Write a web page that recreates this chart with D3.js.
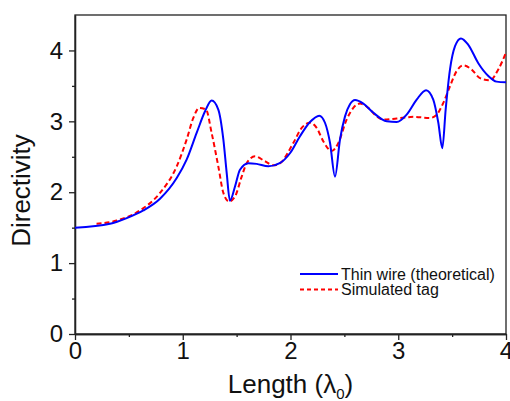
<!DOCTYPE html>
<html>
<head>
<meta charset="utf-8">
<script src="https://cdn.jsdelivr.net/npm/d3@7"></script>
<style>
  body { margin: 0; background: #fff; }
  svg { display: block; font-family: Arial, "Liberation Sans", sans-serif; }
  .axis path, .axis line { stroke: #222; }
  .axis text { fill: #111; }
</style>
</head>
<body>
<svg></svg>
<script>
// thin wire (theoretical)
let wireX = [0, 0.325, 0.48, 0.634, 0.789, 0.944, 1.036, 1.129, 1.207, 1.268, 1.33, 1.377, 1.408, 1.438, 1.485, 1.531, 1.609, 1.686, 1.794, 1.90, 1.995, 2.088, 2.181, 2.267, 2.32, 2.367, 2.413, 2.459, 2.506, 2.552, 2.599, 2.676, 2.77, 2.893, 2.985, 3.078, 3.171, 3.258, 3.325, 3.372, 3.409, 3.44, 3.48, 3.527, 3.582, 3.65, 3.743, 3.836, 3.913, 4.0]
let wireY = [1.5, 1.555, 1.635, 1.743, 1.908, 2.2, 2.46, 2.837, 3.142, 3.293, 3.166, 2.742, 2.27, 1.88, 2.08, 2.318, 2.41, 2.40, 2.365, 2.41, 2.55, 2.79, 2.99, 3.08, 2.98, 2.695, 2.22, 2.74, 3.07, 3.24, 3.30, 3.25, 3.12, 3.0, 2.99, 3.095, 3.307, 3.44, 3.307, 2.98, 2.62, 3.166, 3.73, 4.06, 4.17, 4.08, 3.82, 3.64, 3.56, 3.55]

// simulated tag
let tagX = [0.2, 0.387, 0.603, 0.789, 0.944, 1.036, 1.098, 1.154, 1.216, 1.268, 1.33, 1.377, 1.429, 1.485, 1.547, 1.593, 1.67, 1.763, 1.84, 1.903, 2.026, 2.104, 2.181, 2.243, 2.304, 2.382, 2.444, 2.521, 2.583, 2.645, 2.722, 2.8, 2.861, 2.985, 3.14, 3.295, 3.357, 3.418, 3.48, 3.542, 3.604, 3.681, 3.759, 3.852, 3.928, 4.0]
let tagY = [1.555, 1.6, 1.743, 1.99, 2.365, 2.742, 3.048, 3.19, 3.166, 2.837, 2.365, 1.99, 1.87, 1.94, 2.22, 2.41, 2.506, 2.437, 2.38, 2.41, 2.695, 2.907, 2.98, 2.907, 2.72, 2.58, 2.695, 3.025, 3.19, 3.25, 3.19, 3.07, 3.025, 3.04, 3.063, 3.048, 3.095, 3.26, 3.495, 3.71, 3.79, 3.73, 3.61, 3.58, 3.73, 3.97]

let xMajor = [0, 1, 2, 3, 4]
let xMinor = [0.5, 1.5, 2.5, 3.5]
let yMajor = [0, 1, 2, 3, 4]
let yMinor = [0.5, 1.5, 2.5, 3.5]
let seriesNames = ['Thin wire (theoretical)', 'Simulated tag']

let width = 510
let height = 401
let plotLeft = 75, plotRight = 506, plotTop = 15, plotBottom = 334

let svg = d3.select('svg')
    .attr('width', width)
    .attr('height', height)

let xScale = d3.scaleLinear().domain([0, 4]).range([plotLeft, plotRight])
let yScale = d3.scaleLinear().domain([0, 4.5]).range([plotBottom, plotTop])

// frame
svg.append('rect')
    .attr('x', plotLeft)
    .attr('y', plotTop)
    .attr('width', plotRight - plotLeft)
    .attr('height', plotBottom - plotTop)
    .attr('fill', 'none')
    .attr('stroke', '#222')
    .attr('stroke-width', 1.3)

// major axes with labels
let xAxis = svg.append('g')
    .attr('class', 'axis')
    .attr('transform', `translate(0, ${plotBottom})`)
    .call(d3.axisBottom(xScale).tickValues(xMajor).tickFormat(d3.format('d')).tickSize(6).tickSizeOuter(0))
xAxis.selectAll('text').attr('font-size', 24).attr('dy', '0.75em').attr('y', 7)

let yAxis = svg.append('g')
    .attr('class', 'axis')
    .attr('transform', `translate(${plotLeft}, 0)`)
    .call(d3.axisLeft(yScale).tickValues(yMajor).tickFormat(d3.format('d')).tickSize(6).tickSizeOuter(0))
yAxis.selectAll('text').attr('font-size', 24).attr('x', -12)

// minor ticks
svg.append('g')
    .attr('class', 'axis')
    .attr('transform', `translate(0, ${plotBottom})`)
    .call(d3.axisBottom(xScale).tickValues(xMinor).tickFormat('').tickSize(3).tickSizeOuter(0))
svg.append('g')
    .attr('class', 'axis')
    .attr('transform', `translate(${plotLeft}, 0)`)
    .call(d3.axisLeft(yScale).tickValues(yMinor).tickFormat('').tickSize(3).tickSizeOuter(0))

svg.selectAll('.axis path').attr('stroke-width', 1.3)
svg.selectAll('.axis line').attr('stroke-width', 1.3)

// curves
let line = d3.line()
    .x(d => xScale(d[0]))
    .y(d => yScale(d[1]))
    .curve(d3.curveMonotoneX)

let wire = wireX.map((x, i) => [x, wireY[i]])
let tag = tagX.map((x, i) => [x, tagY[i]])

svg.append('path')
    .datum(tag)
    .attr('d', line)
    .attr('fill', 'none')
    .attr('stroke', '#ff0000')
    .attr('stroke-width', 2)
    .attr('stroke-dasharray', '5,3')

svg.append('path')
    .datum(wire)
    .attr('d', line)
    .attr('fill', 'none')
    .attr('stroke', '#0000ff')
    .attr('stroke-width', 2)

// legend
let legend = svg.append('g')
let legendStyles = [
    { color: '#0000ff', dash: null },
    { color: '#ff0000', dash: '4,3' }
]
seriesNames.forEach((name, i) => {
    let y = 274 + i * 15.5
    legend.append('line')
        .attr('x1', 300).attr('x2', 338)
        .attr('y1', y).attr('y2', y)
        .attr('stroke', legendStyles[i].color)
        .attr('stroke-width', 2)
        .attr('stroke-dasharray', legendStyles[i].dash)
    legend.append('text')
        .attr('x', 341)
        .attr('y', y + 5.5)
        .attr('font-size', 16)
        .attr('fill', '#111')
        .text(name)
})

// axis titles
svg.append('text')
    .attr('transform', `translate(30, ${(plotTop + plotBottom) / 2 + 16}) rotate(-90)`)
    .attr('text-anchor', 'middle')
    .attr('font-size', 26)
    .attr('fill', '#111')
    .text('Directivity')

let xTitle = svg.append('text')
    .attr('x', (plotLeft + plotRight) / 2)
    .attr('y', 393)
    .attr('text-anchor', 'middle')
    .attr('font-size', 26)
    .attr('fill', '#111')
xTitle.append('tspan').text('Length (λ')
xTitle.append('tspan').attr('font-size', 15).attr('dy', 6).text('0')
xTitle.append('tspan').attr('dy', -6).text(')')
</script>
</body>
</html>
